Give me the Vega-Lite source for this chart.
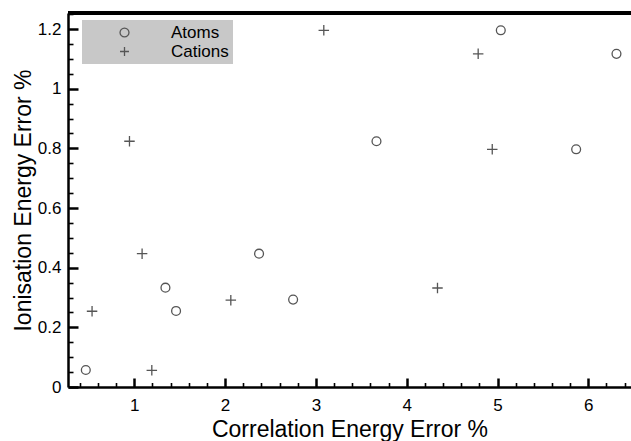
{
  "$schema": "https://vega.github.io/schema/vega-lite/v6.json",
  "autosize": "none",
  "padding": {"left": 68, "top": 13, "right": 0, "bottom": 54},
  "width": 563,
  "height": 374,
  "background": "white",
  "config": {
    "view": {"stroke": null, "fill": null},
    "font": "Liberation Sans",
    "axis": {"grid": false, "zindex": 1, "labelFont": "Liberation Sans", "titleFont": "Liberation Sans", "labelColor": "black", "titleColor": "black", "tickColor": "#000000", "domainColor": "#000000"}
  },
  "data": {
    "values": [
      {"series": "Atoms", "corr": 0.466, "ion": 0.057},
      {"series": "Atoms", "corr": 1.343, "ion": 0.333},
      {"series": "Atoms", "corr": 1.46, "ion": 0.255},
      {"series": "Atoms", "corr": 2.374, "ion": 0.447},
      {"series": "Atoms", "corr": 2.749, "ion": 0.293},
      {"series": "Atoms", "corr": 3.667, "ion": 0.824},
      {"series": "Atoms", "corr": 5.036, "ion": 1.196},
      {"series": "Atoms", "corr": 6.31, "ion": 1.117},
      {"series": "Atoms", "corr": 5.866, "ion": 0.797},
      {"series": "Cations", "corr": 0.535, "ion": 0.254},
      {"series": "Cations", "corr": 1.086, "ion": 0.447},
      {"series": "Cations", "corr": 1.193, "ion": 0.056},
      {"series": "Cations", "corr": 2.063, "ion": 0.291},
      {"series": "Cations", "corr": 0.947, "ion": 0.824},
      {"series": "Cations", "corr": 3.087, "ion": 1.196},
      {"series": "Cations", "corr": 4.787, "ion": 1.117},
      {"series": "Cations", "corr": 4.942, "ion": 0.797},
      {"series": "Cations", "corr": 4.339, "ion": 0.332}
    ]
  },
  "resolve": {"axis": {"x": "independent", "y": "independent"}},
  "layer": [
    {
      "transform": [{"filter": "datum.series === 'Atoms'"}],
      "mark": {"type": "point", "filled": false, "stroke": "#555555", "strokeWidth": 1.3, "size": 78, "opacity": 1},
      "encoding": {
        "x": {"field": "corr", "type": "quantitative", "scale": {"domain": [0.27, 6.47], "nice": false, "zero": false},
          "axis": {"orient": "bottom", "zindex": 1, "title": "Correlation Energy Error %", "values": [1, 2, 3, 4, 5, 6], "format": "d", "ticks": true, "tickSize": -9, "tickWidth": 2.5, "tickColor": "#000000", "domainWidth": 2.5, "labelFontSize": 17, "labelPadding": 19, "titleFontSize": 23, "titleFontWeight": "normal", "titlePadding": 5}},
        "y": {"field": "ion", "type": "quantitative", "scale": {"domain": [0, 1.254], "nice": false, "zero": true},
          "axis": {"orient": "left", "zindex": 1, "title": "Ionisation Energy Error %", "values": [0, 0.2, 0.4, 0.6, 0.8, 1, 1.2], "labelExpr": "'' + round(datum.value * 10) / 10", "ticks": true, "tickSize": -10, "tickWidth": 2.5, "tickColor": "#000000", "domainWidth": 2.5, "labelFontSize": 17, "labelPadding": 17, "titleFontSize": 23, "titleFontWeight": "normal", "titlePadding": 2}},
        "shape": {"field": "series", "type": "nominal", "scale": {"domain": ["Atoms", "Cations"], "range": ["circle", "M-1,0H1M0,-1V1"]},
          "legend": {"title": null, "orient": "none", "legendX": 14, "legendY": 7, "fillColor": "#c8c8c8", "padding": 4, "labelFontSize": 17, "labelFont": "Liberation Sans", "labelColor": "black", "labelOffset": 38, "symbolOffset": 30, "rowPadding": 1, "symbolSize": 80, "symbolStrokeColor": "#555555", "symbolStrokeWidth": 1.3, "symbolFillColor": "transparent"}}
      }
    },
    {
      "transform": [{"filter": "datum.series === 'Cations'"}],
      "mark": {"type": "point", "filled": false, "stroke": "#555555", "strokeWidth": 1.3, "size": 110, "opacity": 1},
      "encoding": {
        "x": {"field": "corr", "type": "quantitative",
          "axis": {"orient": "bottom", "zindex": 1, "title": null, "labels": false, "domain": false, "ticks": true, "values": [0.4, 0.6, 0.8, 1.2, 1.4, 1.6, 1.8, 2.2, 2.4, 2.6, 2.8, 3.2, 3.4, 3.6, 3.8, 4.2, 4.4, 4.6, 4.8, 5.2, 5.4, 5.6, 5.8, 6.2, 6.4], "tickSize": -4.5, "tickWidth": 1.6, "tickColor": "#000000"}},
        "y": {"field": "ion", "type": "quantitative",
          "axis": {"orient": "left", "zindex": 1, "title": null, "labels": false, "domain": false, "ticks": true, "values": [0.05, 0.1, 0.15, 0.25, 0.3, 0.35, 0.45, 0.5, 0.55, 0.65, 0.7, 0.75, 0.85, 0.9, 0.95, 1.05, 1.1, 1.15, 1.25], "tickSize": -5, "tickWidth": 1.6, "tickColor": "#000000"}},
        "shape": {"field": "series", "type": "nominal"}
      }
    },
    {
      "mark": {"type": "rule", "color": "black", "strokeWidth": 2.5},
      "encoding": {"y": {"datum": 1.254, "axis": null}}
    }
  ]
}
